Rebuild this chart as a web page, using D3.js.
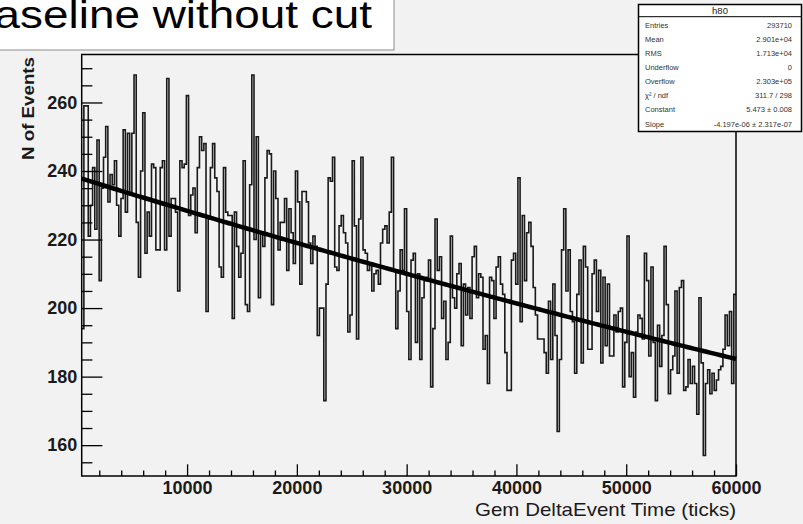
<!DOCTYPE html>
<meta charset="utf-8">
<style>
    body { margin: 0; background: #f2f2f2; }
    svg { display: block; }
</style>
<svg width="803" height="524" font-family="'Liberation Sans', Arial, sans-serif"></svg>
<script src="https://d3js.org/d3.v7.min.js"></script>
<script>

    // bin contents of h80 (300 bins)
    var counts = [
        194, 259, 259, 221, 230, 241, 223, 249, 208, 235, 244, 253, 231, 239, 236, 243, 230, 221, 232,
        252, 228, 251, 233, 251, 268, 225, 209, 240, 257,
        216, 228, 221, 242, 241, 217, 217, 241, 243, 217,
        267, 221, 232, 232, 228, 205, 243, 241, 242, 262, 227, 233,
        235, 222, 241, 250, 246, 248, 199, 226, 241, 248, 238,
        234, 212, 209, 241, 228, 227, 227, 197, 228, 218,
        209, 216, 243, 201, 199, 236, 268, 220, 250, 203,
        222, 218, 238, 246, 245, 201, 240, 232, 217, 225,
        225, 232, 211, 229, 222, 213, 240, 231, 207, 234,
        234, 231, 219, 213, 221, 218, 192, 200, 200, 173, 207,
        238,
        237, 244, 212, 211, 224, 227, 222, 219, 193, 198,
        243, 224, 191, 226, 244, 217, 216, 211, 213, 205,
        210, 211, 207, 219, 223, 224, 219, 228, 244, 211,
        194, 205, 217, 211, 229, 199, 185, 214, 216, 190,
        210, 185, 203, 208, 209, 214, 177, 194, 226, 211,
        215, 197, 202, 185, 190, 221, 203, 200, 210, 213,
        189, 207, 198, 206, 197, 215, 218, 203, 210, 209,
        188, 192, 178, 209, 208, 197, 212, 215, 207, 204,
        187, 176, 176, 214, 216, 207, 238, 196, 227, 208,
        222, 225, 218, 206, 198, 191, 191, 191, 187, 181,
        202, 185, 207, 192, 164, 185, 217, 229, 205, 217,
        199, 196, 181, 204, 214, 184, 218, 212, 188, 188,
        210, 214, 199, 211, 184, 209, 189, 207, 186, 186,
        198, 193, 199, 200, 177, 190, 221, 180, 187, 174,
        193, 198, 197, 191, 216, 208, 186, 212, 190, 173,
        195, 183, 192, 218, 201, 175, 182, 186, 205, 181,
        206, 208, 176, 177, 185, 178, 183, 178, 169, 203,
        184, 157, 178, 182, 175, 181, 176, 179, 182, 183,
        188, 198, 189, 199, 178, 204
    ];

    var xRange = [400, 60000];
    var yRange = [151, 274];
    var xTicks = [10000, 20000, 30000, 40000, 50000, 60000];
    var yTicks = [160, 180, 200, 220, 240, 260];

    // expo fit: exp(constant + slope * x)
    var fitConstant = 5.473;
    var fitSlope = -4.197e-06;

    var statsTitle = "h80";
    var statNames = ["Entries", "Mean", "RMS", "Underflow", "Overflow", "\u03c7\u00b2 / ndf", "Constant", "Slope"];
    var statValues = ["293710", "2.901e+04", "1.713e+04", "0", "2.303e+05", "311.7 / 298", "5.473 \u00b1 0.008", "-4.197e-06 \u00b1 2.317e-07"];

    var title = "Baseline without cut";
    var xTitle = "Gem DeltaEvent Time (ticks)";
    var yTitle = "N of Events";

    var svg = d3.select("svg");
    var frame = {left: 81.7, right: 736, top: 54.5, bottom: 476};

    var x = d3.scaleLinear().domain(xRange).range([frame.left, frame.right]);
    var y = d3.scaleLinear().domain(yRange).range([frame.bottom, frame.top]);

    var binWidth = (xRange[1] - xRange[0]) / counts.length;

    // title pave
    svg.append("rect")
        .attr("x", -2).attr("y", -2)
        .attr("width", 396).attr("height", 52)
        .attr("fill", "#fff")
        .attr("stroke", "#8a8a8a");

    svg.append("text")
        .attr("x", -36).attr("y", 28)
        .attr("font-size", 39)
        .attr("textLength", 408)
        .attr("lengthAdjust", "spacingAndGlyphs")
        .attr("fill", "#000")
        .text(title);

    svg.append("clipPath")
        .attr("id", "clip-frame")
        .append("rect")
        .attr("x", frame.left).attr("y", frame.top)
        .attr("width", frame.right - frame.left)
        .attr("height", frame.bottom - frame.top);

    // histogram outline
    var pts = counts.map(function(d, i) { return [xRange[0] + i * binWidth, d]; });
    pts.push([xRange[1], counts[counts.length - 1]]);

    var step = d3.line()
        .x(function(d) { return x(d[0]); })
        .y(function(d) { return y(d[1]); })
        .curve(d3.curveStepAfter);

    svg.append("path")
        .attr("clip-path", "url(#clip-frame)")
        .attr("d", step(pts))
        .attr("fill", "none")
        .attr("stroke", "#1a1a1a")
        .attr("stroke-width", 1.6);

    // fit curve
    var fitPts = d3.range(0, 201).map(function(k) {
        var xv = xRange[0] + k * (xRange[1] - xRange[0]) / 200;
        return [xv, Math.exp(fitConstant + fitSlope * xv)];
    });

    svg.append("path")
        .attr("d", d3.line().x(function(d) { return x(d[0]); }).y(function(d) { return y(d[1]); })(fitPts))
        .attr("fill", "none")
        .attr("stroke", "#000")
        .attr("stroke-width", 4.5);

    // axes (ticks drawn inside the frame, like ROOT)
    var xMinor = d3.range(2000, 60001, 2000).filter(function(v) { return v % 10000 && v > xRange[0]; });
    var yMinor = d3.range(155, 274, 5).filter(function(v) { return v % 20; });

    var gx = svg.append("g")
        .attr("transform", "translate(0," + frame.bottom + ")")
        .call(d3.axisBottom(x).tickValues(xTicks).tickSize(-11.7).tickPadding(5).tickFormat(d3.format("d")));
    svg.append("g")
        .attr("transform", "translate(0," + frame.bottom + ")")
        .call(d3.axisBottom(x).tickValues(xMinor).tickSize(-5.5).tickFormat(""));

    var gy = svg.append("g")
        .attr("transform", "translate(" + frame.left + ",0)")
        .call(d3.axisLeft(y).tickValues(yTicks).tickSize(-20.7).tickPadding(4.4));
    svg.append("g")
        .attr("transform", "translate(" + frame.left + ",0)")
        .call(d3.axisLeft(y).tickValues(yMinor).tickSize(-10.7).tickFormat(""));

    svg.selectAll(".domain").remove();
    svg.selectAll(".tick line").attr("stroke", "#000").attr("stroke-width", 1.3);
    svg.selectAll(".tick text")
        .attr("font-family", "'Liberation Sans', Arial, sans-serif")
        .attr("font-size", 18)
        .attr("font-weight", "bold")
        .attr("fill", "#1a1a1a");

    svg.append("rect")
        .attr("x", frame.left).attr("y", frame.top)
        .attr("width", frame.right - frame.left)
        .attr("height", frame.bottom - frame.top)
        .attr("fill", "none")
        .attr("stroke", "#000")
        .attr("stroke-width", 1.5);

    svg.append("text")
        .attr("x", frame.right).attr("y", 516)
        .attr("text-anchor", "end")
        .attr("font-size", 19)
        .attr("textLength", 261)
        .attr("lengthAdjust", "spacingAndGlyphs")
        .attr("fill", "#1a1a1a")
        .text(xTitle);

    svg.append("text")
        .attr("transform", "translate(34.3,57) rotate(-90)")
        .attr("text-anchor", "end")
        .attr("font-size", 17)
        .attr("font-weight", "bold")
        .attr("textLength", 103)
        .attr("lengthAdjust", "spacingAndGlyphs")
        .attr("fill", "#1a1a1a")
        .text(yTitle);

    // stats box
    var stats = svg.append("g");
    stats.append("rect")
        .attr("x", 638.5).attr("y", 4.5)
        .attr("width", 163).attr("height", 127)
        .attr("fill", "#fff")
        .attr("stroke", "#000")
        .attr("stroke-width", 1.5);
    stats.append("line")
        .attr("x1", 638.5).attr("x2", 801.5)
        .attr("y1", 16.7).attr("y2", 16.7)
        .attr("stroke", "#000");
    stats.append("text")
        .attr("x", 720).attr("y", 14)
        .attr("text-anchor", "middle")
        .attr("font-size", 9.5)
        .attr("fill", "#222")
        .text(statsTitle);

    var rows = stats.selectAll(".row")
        .data(d3.zip(statNames, statValues))
        .enter().append("g")
        .attr("transform", function(d, i) { return "translate(0," + (27.8 + i * 14.1) + ")"; });
    rows.append("text")
        .attr("x", 645)
        .attr("font-size", 7.5)
        .attr("fill", "#333")
        .text(function(d) { return d[0]; });
    rows.append("text")
        .attr("x", 792)
        .attr("text-anchor", "end")
        .attr("font-size", 7.5)
        .attr("fill", "#333")
        .text(function(d) { return d[1]; });

</script>
